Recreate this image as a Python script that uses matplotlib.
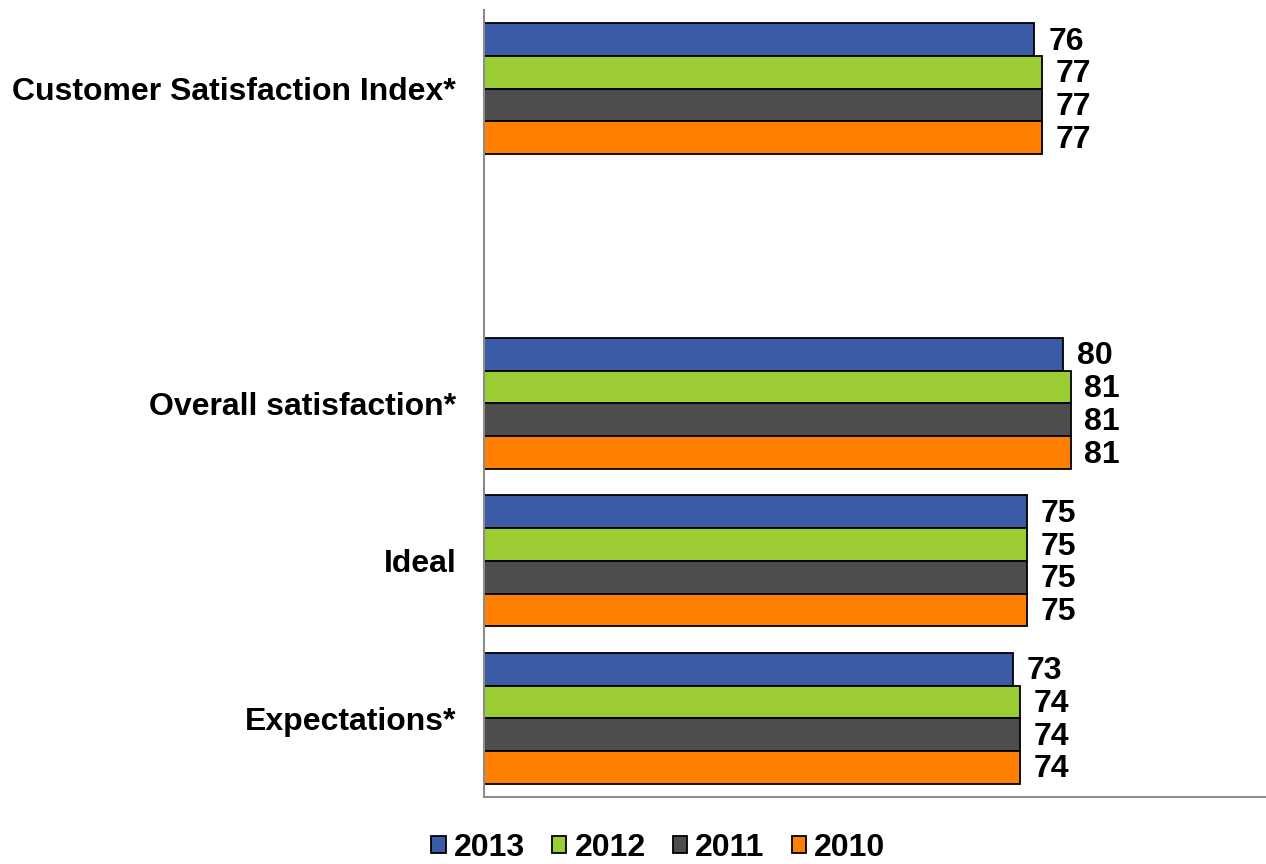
import numpy as np
import matplotlib
matplotlib.use("Agg")
import matplotlib.pyplot as plt

plt.rcParams['font.family'] = ['Liberation Sans', 'DejaVu Sans']

categories = ["Customer Satisfaction Index*", "", "Overall satisfaction*", "Ideal", "Expectations*"]
series_names = ["2013", "2012", "2011", "2010"]
values_2013 = [76, np.nan, 80, 75, 73]
values_2012 = [77, np.nan, 81, 75, 74]
values_2011 = [77, np.nan, 81, 75, 74]
values_2010 = [77, np.nan, 81, 75, 74]
series_values = [values_2013, values_2012, values_2011, values_2010]
colors = ["#3C5BA6", "#9BCC34", "#4D4D4D", "#FF8000"]

fig = plt.figure(figsize=(12.66, 8.64), dpi=100)
ax = fig.add_axes([484 / 1266, 1 - 797 / 864, 1 - 484 / 1266, (797 - 10) / 864])

y = np.arange(len(categories))
h = 0.208
for j, (name, vals, c) in enumerate(zip(series_names, series_values, colors)):
    pos = y + (j - 1.5) * h
    ax.barh(pos, vals, height=h, color=c, edgecolor='black', linewidth=1.3, label=name)
    for p, v in zip(pos, vals):
        if not np.isnan(v):
            ax.annotate(f"{v:.0f}", xy=(v, p), xytext=(10, -1.5), textcoords='offset points',
                        va='center', ha='left', fontsize=23, fontweight='bold', color='black')

ax.set_ylim(len(categories) - 0.5, -0.5)
ax.set_xlim(0, 108)
ax.set_yticks(y)
ax.set_yticklabels(categories, fontsize=23, fontweight='bold')
ax.tick_params(axis='y', length=0, pad=20)
ax.set_xticks([])
for s in ['top', 'right']:
    ax.spines[s].set_visible(False)
for s in ['left', 'bottom']:
    ax.spines[s].set_color('#8C8C8C')
    ax.spines[s].set_linewidth(1.5)

leg = fig.legend(loc='center', bbox_to_anchor=(0.520, 0.019), ncol=4, frameon=False,
                 prop={'size': 23, 'weight': 'bold'}, handlelength=0.45, handleheight=0.45,
                 handletextpad=0.25, columnspacing=0.85, borderpad=0)

fig.savefig("out.png", dpi=100)
